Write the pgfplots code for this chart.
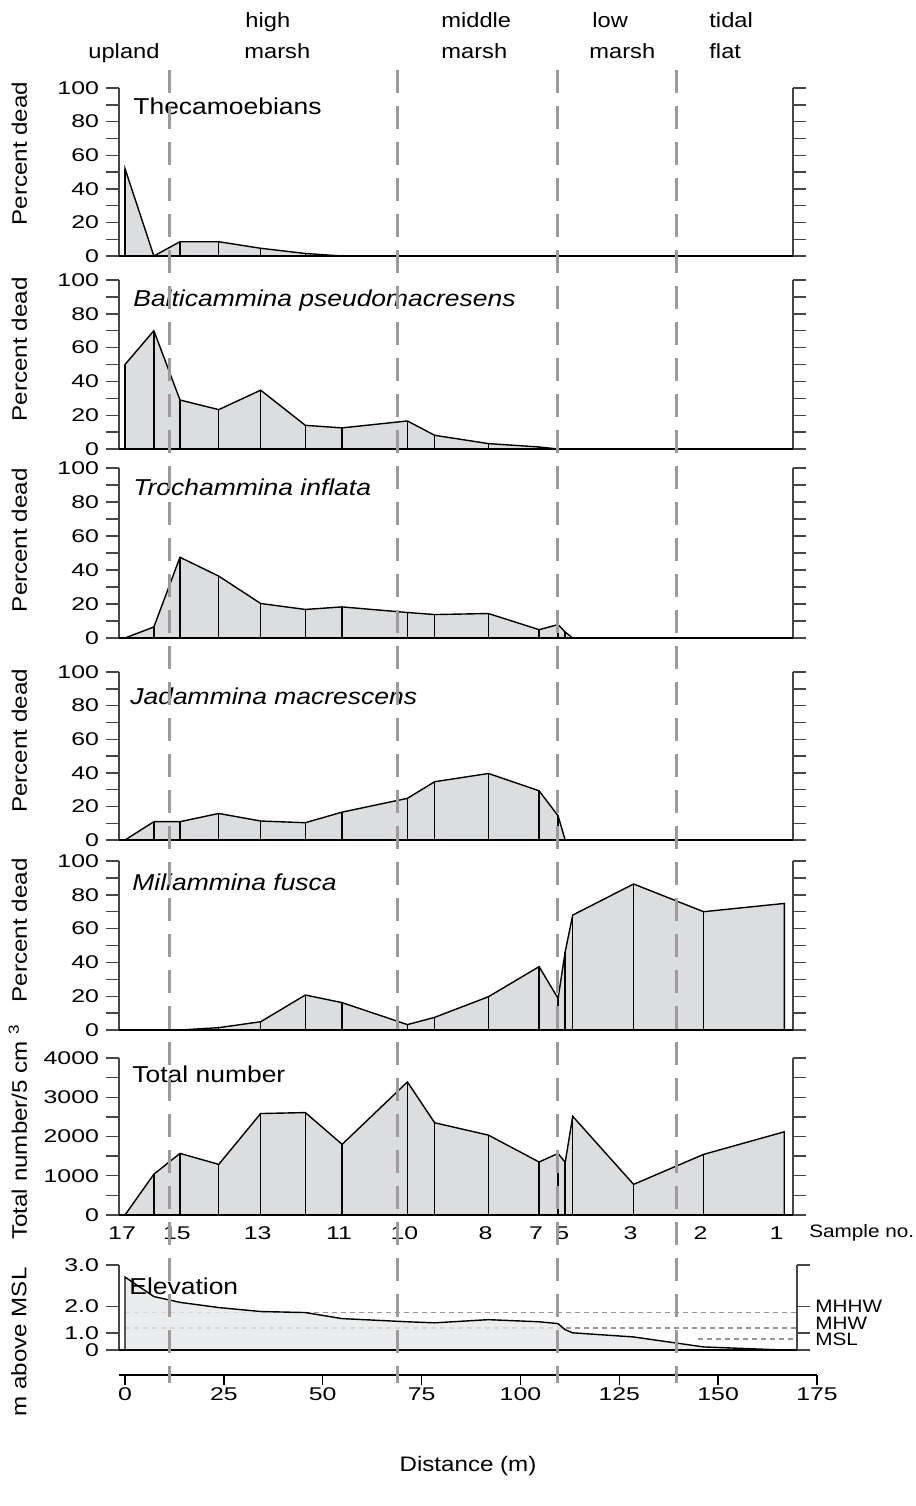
\documentclass[border=0pt]{standalone}
\usepackage{fontspec}
\setmainfont{Liberation Sans}[FakeStretch=1.15]
\newfontfamily\tickfont{Liberation Sans}[FakeStretch=1.35]
\usepackage{pgfplots}
\pgfplotsset{compat=1.18}
\usepackage{pgfplotstable}

\definecolor{areafill}{RGB}{220,221,223}
\definecolor{elevfill}{RGB}{230,231,232}
\definecolor{zonegray}{RGB}{155,155,155}
\definecolor{axisgray}{RGB}{70,70,70}
\definecolor{levelgray}{RGB}{150,150,150}

% Percent of dead tests per taxon and total number per 5 cm^3, by distance (m) along the transect
\pgfplotstableread{
dist  theca balti troch jadam milia total
0.0   52    50    0     0     0     0
7.3   0     70    6.5   10.9  0     1040
13.9  8.5   29    47.5  10.9  0     1570
23.7  8.5   23.3  36.4  15.8  1.4   1290
34.3  4.6   34.8  20.3  11.3  4.9   2585
45.6  1.5   14.0  16.8  10.3  20.7  2610
54.9  0     12.5  18.3  16.6  16.2  1800
71.4  0     16.6  15.0  24.8  3.2   3390
78.3  0     8.1   13.8  34.7  7.5   2350
91.9  0     3.2   14.4  39.6  19.7  2035
104.7 0     1.2   4.9   29.3  37.5  1350
109.5 0     0     7.9   14.4  18.7  1570
111.3 0     0     3.5   0     46.3  1340
113.2 0     0     0     0     68.0  2515
128.6 0     0     0     0     86.4  780
146.3 0     0     0     0     70.0  1545
166.7 0     0     0     0     74.9  2120
}\samples

% Surface elevation (m above MSL)
\pgfplotstableread{
dist  elev
0.0   2.71
7.3   2.24
13.9  2.10
23.7  1.96
34.3  1.81
45.6  1.77
54.9  1.54
71.4  1.42
78.3  1.38
91.9  1.50
104.7 1.42
109.5 1.35
111.3 1.12
113.2 1.00
128.6 0.76
146.3 0.18
166.7 0.0
}\elevation

\tikzset{
  panel title/.style={anchor=north west, inner sep=0pt, font=\fontsize{11.5}{13}\selectfont},
  zone/.style={anchor=base west, inner sep=0pt, font=\fontsize{10.3}{12}\selectfont},
  level label/.style={anchor=west, inner sep=0pt, font=\fontsize{9}{11}\selectfont},
}

\pgfplotsset{
  panel/.style={
    scale only axis, width=337pt, xmin=-1.52, xmax=168.9,
    axis line style={draw=none},
    tick align=outside, ytick pos=both, yticklabel pos=left,
    xtick=\empty,
    major tick length=6.5pt, minor tick length=6.5pt,
    tick style={axisgray, line width=0.7pt},
    tick label style={font=\tickfont\fontsize{9.2}{10}\selectfont},
    /pgf/number format/assume math mode=true,
    /pgf/number format/1000 sep={},
    ylabel style={font=\fontsize{10.5}{12}\selectfont, at={(axis description cs:-0.126,0.59)}, anchor=south},
    clip=false,
  },
  pct/.style={panel, ymin=0, ymax=100, ytick={0,20,...,100}, minor ytick={10,30,...,90}, ylabel={Percent dead}},
  deadarea/.style={draw=black, line width=0.7pt, fill=areafill},
  stems/.style={ycomb, black, line width=0.7pt, mark=none},
  tidelevel/.style={levelgray, line width=0.9pt, dash pattern=on 2.5pt off 2pt},
  % elevation scale: each metre band is drawn with its own height (17, 26, 41 units)
  stretched elevation/.style={
    y coord trafo/.code={\pgfmathparse{(##1<=1)*17*##1 + (##1>1)*(##1<=2)*(17+26*(##1-1)) + (##1>2)*(43+41*(##1-2))}},
  },
}

\newcommand\panelframe{%
  \draw[axisgray, line width=0.8pt] (rel axis cs:0,0) -- (rel axis cs:0,1);
  \draw[axisgray, line width=0.8pt] (rel axis cs:1,0) -- (rel axis cs:1,1);
  \draw[black, line width=0.9pt] (rel axis cs:0,0) -- (rel axis cs:1,0);}

\begin{document}
\begin{tikzpicture}[font=\fontsize{10.5}{12.6}\selectfont]
\useasboundingbox (-59.5pt,44pt) rectangle (398.5pt,-709pt);

% zone names along the transect
\node[zone] at (-15.5pt,15pt) {upland};
\node[zone] at (63pt,30.5pt) {high};
\node[zone] at (62.5pt,15pt) {marsh};
\node[zone] at (161pt,30.5pt) {middle};
\node[zone] at (161pt,15pt) {marsh};
\node[zone] at (236.5pt,30.5pt) {low};
\node[zone] at (235pt,15pt) {marsh};
\node[zone] at (295pt,30.5pt) {tidal};
\node[zone] at (295pt,15pt) {flat};

\begin{axis}[pct, at={(0pt,0pt)}, anchor=north west, height=84pt,
  ylabel style={at={(axis description cs:-0.126,0.61)}}]
  \addplot[deadarea] table[x=dist,y=theca]{\samples} \closedcycle;
  \addplot[stems] table[x=dist,y=theca]{\samples};
  \panelframe
  \node[panel title] at (rel axis cs:0,1) [xshift=7pt, yshift=-4.5pt] {Thecamoebians};
\end{axis}

\begin{axis}[pct, at={(0pt,-96pt)}, anchor=north west, height=84.5pt]
  \addplot[deadarea] table[x=dist,y=balti]{\samples} \closedcycle;
  \addplot[stems] table[x=dist,y=balti]{\samples};
  \panelframe
  \node[panel title] at (rel axis cs:0,1) [xshift=7pt, yshift=-4.5pt] {\itshape Balticammina pseudomacresens};
\end{axis}

\begin{axis}[pct, at={(0pt,-190pt)}, anchor=north west, height=85pt,
  ylabel style={at={(axis description cs:-0.126,0.575)}}]
  \addplot[deadarea] table[x=dist,y=troch]{\samples} \closedcycle;
  \addplot[stems] table[x=dist,y=troch]{\samples};
  \panelframe
  \node[panel title] at (rel axis cs:0,1) [xshift=7pt, yshift=-5pt] {\itshape Trochammina inflata};
\end{axis}

\begin{axis}[pct, at={(0pt,-292pt)}, anchor=north west, height=84pt]
  \addplot[deadarea] table[x=dist,y=jadam]{\samples} \closedcycle;
  \addplot[stems] table[x=dist,y=jadam]{\samples};
  \panelframe
  \node[panel title] at (rel axis cs:0,1) [xshift=5.5pt, yshift=-7.5pt] {\itshape Jadammina macrescens};
\end{axis}

\begin{axis}[pct, at={(0pt,-386.5pt)}, anchor=north west, height=84.5pt]
  \addplot[deadarea] table[x=dist,y=milia]{\samples} \closedcycle;
  \addplot[stems] table[x=dist,y=milia]{\samples};
  \panelframe
  \node[panel title] at (rel axis cs:0,1) [xshift=6.5pt, yshift=-6pt] {\itshape Miliammina fusca};
\end{axis}

\begin{axis}[panel, at={(0pt,-485pt)}, anchor=north west, height=78.5pt,
  ymin=0, ymax=4000, ytick={0,1000,...,4000}, minor ytick={500,1500,2500,3500},
  ylabel={Total number/5 cm \textsuperscript{3}},
  ylabel style={at={(axis description cs:-0.126,0.53)}},
  xtick={0,13.9,34.3,54.9,71.4,91.9,104.7,111.3,128.6,146.3,165.5},
  xticklabels={17,15,13,11,10,8,7,5,3,2,1},
  xtick style={draw=none},
  xticklabel style={xshift=-1.5pt, yshift=4pt}]
  \addplot[deadarea] table[x=dist,y=total]{\samples} \closedcycle;
  \addplot[stems] table[x=dist,y=total]{\samples};
  \panelframe
  \node[panel title] at (rel axis cs:0,1) [xshift=6.5pt, yshift=-3.5pt] {Total number};
  \node[anchor=base west, inner sep=0pt, font=\fontsize{9}{11}\selectfont] at (rel axis cs:1,0) [xshift=8pt, yshift=-11pt] {Sample no.};
\end{axis}

\begin{axis}[panel, stretched elevation, at={(0pt,-588.5pt)}, anchor=north west, height=42.5pt, width=339pt, xmax=169.95,
  ymin=0, ymax=3, ytick={0,1,2,3}, yticklabels={0,1.0,2.0,3.0},
  ylabel={m above MSL},
  ylabel style={at={(axis description cs:-0.126,0.094)}}]
  \addplot[tidelevel] coordinates {(0,1.77) (169.95,1.77)};
  \addplot[tidelevel] coordinates {(0,1.19) (169.95,1.19)};
  \addplot[tidelevel] coordinates {(145,0.65) (169.95,0.65)};
  \addplot[draw=black, line width=0.7pt, fill=elevfill, fill opacity=0.8] table[x=dist,y=elev]{\elevation} \closedcycle;
  \panelframe
  \node[panel title] at (rel axis cs:0,1) [xshift=5pt, yshift=-6pt] {Elevation};
  \node[level label] at (rel axis cs:1,0.51) [xshift=9pt] {MHHW};
  \node[level label] at (rel axis cs:1,0.315) [xshift=9pt] {MHW};
  \node[level label] at (rel axis cs:1,0.13) [xshift=9pt] {MSL};
\end{axis}

% distance scale
\begin{axis}[at={(0pt,-643.5pt)}, anchor=south west, scale only axis, width=349pt, height=10pt,
  xmin=-1.52, xmax=175, ymin=0, ymax=1,
  axis x line=bottom, axis y line=none, axis line style={-, black, line width=0.8pt},
  xtick={0,25,...,175}, tick align=outside, major tick length=5pt,
  tick style={black, line width=0.7pt},
  tick label style={font=\tickfont\fontsize{9.2}{10}\selectfont},
  xticklabel style={yshift=2pt},
  /pgf/number format/assume math mode=true,
  xlabel={Distance (m)}, xlabel style={font=\fontsize{10.5}{12}\selectfont, yshift=-20.5pt}]
\end{axis}

% zone boundaries across all panels
\begin{axis}[at={(0pt,9pt)}, anchor=north west, scale only axis, width=337pt, height=656.5pt,
  xmin=-1.52, xmax=168.9, ymin=0, ymax=1, hide axis, clip=false]
  \addplot[zonegray, line width=1.5pt, dash pattern=on 11.5pt off 6.5pt] coordinates {(11.2,1) (11.2,0)};
  \addplot[zonegray, line width=1.5pt, dash pattern=on 11.5pt off 6.5pt] coordinates {(69.0,1) (69.0,0)};
  \addplot[zonegray, line width=1.5pt, dash pattern=on 11.5pt off 6.5pt] coordinates {(109.3,1) (109.3,0)};
  \addplot[zonegray, line width=1.5pt, dash pattern=on 11.5pt off 6.5pt] coordinates {(139.5,1) (139.5,0)};
\end{axis}
\end{tikzpicture}
\end{document}
